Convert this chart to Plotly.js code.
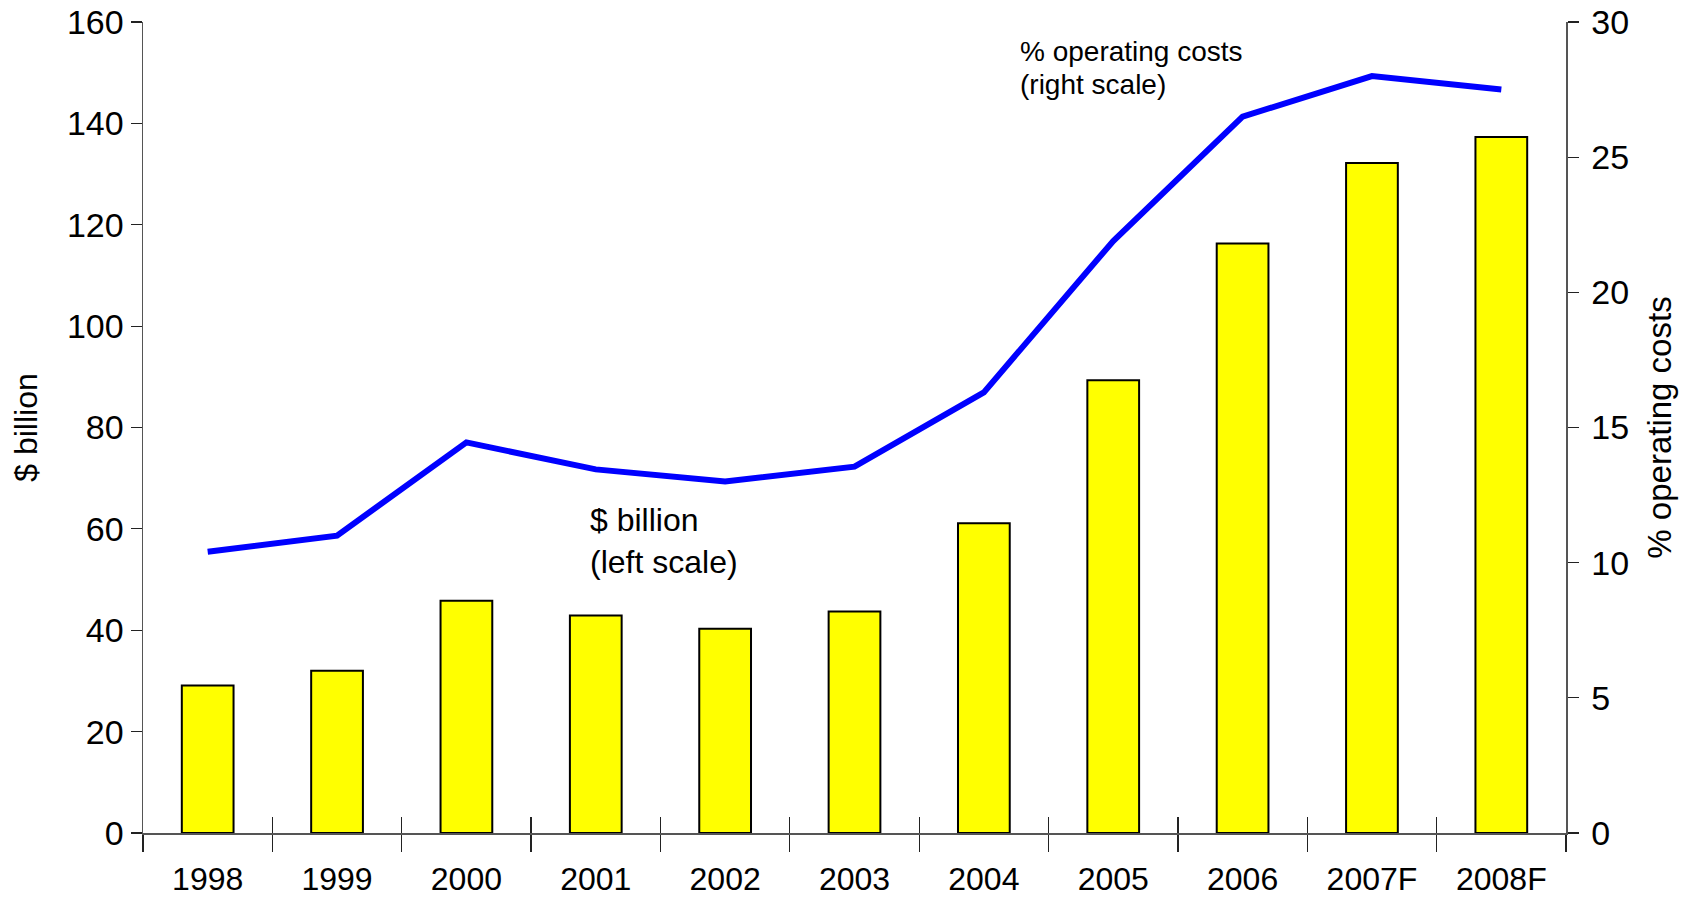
<!DOCTYPE html>
<html>
<head>
<meta charset="utf-8">
<script src="https://cdn.plot.ly/plotly-3.0.1.min.js"></script>
<style>
  html, body { margin: 0; padding: 0; background: #ffffff; }
  #chart { width: 1688px; height: 898px; }
</style>
</head>
<body>
<div id="chart"></div>
<script>
// ---- data ----
const years = ['1998', '1999', '2000', '2001', '2002', '2003', '2004', '2005', '2006', '2007F', '2008F'];
const billions = [29.1, 32.0, 45.8, 42.9, 40.3, 43.7, 61.1, 89.3, 116.3, 132.2, 137.3];
const pctOperatingCosts = [10.4, 11.0, 14.45, 13.45, 13.0, 13.55, 16.3, 21.9, 26.5, 28.0, 27.5];
const leftTitle = '$ billion';
const rightTitle = '% operating costs';
const lineLabel1 = '% operating costs';
const lineLabel2 = '(right scale)';
const barLabel = '$ billion<br>(left scale)';

const FONT = '"Liberation Sans", Arial, Helvetica, sans-serif';
const AXIS_COLOR = '#555555';
const catRange = [-0.5, years.length - 0.5];

const traces = [
  {
    type: 'bar',
    x: years,
    y: billions,
    xaxis: 'x',
    yaxis: 'y',
    width: 0.4,
    marker: { color: '#FFFF00', line: { color: '#000000', width: 2 } },
    hoverinfo: 'x+y'
  },
  {
    type: 'scatter',
    mode: 'lines',
    x: years,
    y: pctOperatingCosts,
    xaxis: 'x2',
    yaxis: 'y2',
    line: { color: '#0000FF', width: 6 },
    hoverinfo: 'x+y'
  }
];

const commonX = {
  type: 'category',
  range: catRange,
  showgrid: false,
  zeroline: false,
  tickson: 'boundaries',
  tickcolor: '#222222',
  tickwidth: 1.2
};

const layout = {
  width: 1688,
  height: 898,
  margin: { l: 143, r: 122, t: 22, b: 65 },
  paper_bgcolor: '#ffffff',
  plot_bgcolor: '#ffffff',
  showlegend: false,
  font: { family: FONT, color: '#000000' },
  xaxis: Object.assign({}, commonX, {
    ticks: 'outside',
    ticklen: 17,
    ticklabelstandoff: 17,
    showline: true,
    linecolor: AXIS_COLOR,
    linewidth: 1.5,
    tickfont: { size: 32, family: FONT, color: '#000000' },
    anchor: 'y'
  }),
  xaxis2: Object.assign({}, commonX, {
    overlaying: 'x',
    side: 'bottom',
    anchor: 'y',
    ticks: 'inside',
    ticklen: 16,
    showticklabels: false,
    showline: false
  }),
  yaxis: {
    range: [0, 160],
    dtick: 20,
    tick0: 0,
    showgrid: false,
    zeroline: false,
    showline: true,
    linecolor: AXIS_COLOR,
    linewidth: 1.5,
    ticks: 'outside',
    ticklen: 11,
    tickcolor: '#222222',
    tickwidth: 1.2,
    tickfont: { size: 34, family: FONT, color: '#000000' },
    title: { text: leftTitle, font: { size: 32, family: FONT, color: '#000000' }, standoff: 20 },
    anchor: 'x'
  },
  yaxis3: {
    overlaying: 'y',
    side: 'left',
    anchor: 'x',
    range: [0, 160],
    dtick: 20,
    tick0: 0,
    showgrid: false,
    zeroline: false,
    showline: false,
    ticks: 'inside',
    ticklen: 11,
    tickcolor: '#222222',
    tickwidth: 1.2,
    showticklabels: false
  },
  yaxis2: {
    overlaying: 'y',
    side: 'right',
    anchor: 'x2',
    range: [0, 30],
    dtick: 5,
    tick0: 0,
    showgrid: false,
    zeroline: false,
    showline: true,
    linecolor: AXIS_COLOR,
    linewidth: 1.5,
    ticks: 'outside',
    ticklen: 11,
    ticklabelstandoff: 6,
    tickcolor: '#222222',
    tickwidth: 1.2,
    tickfont: { size: 34, family: FONT, color: '#000000' },
    title: { text: rightTitle, font: { size: 33, family: FONT, color: '#000000' }, standoff: 20 }
  },
  yaxis4: {
    overlaying: 'y',
    side: 'right',
    anchor: 'x2',
    range: [0, 30],
    dtick: 5,
    tick0: 0,
    showgrid: false,
    zeroline: false,
    showline: false,
    ticks: 'inside',
    ticklen: 11,
    tickcolor: '#222222',
    tickwidth: 1.2,
    showticklabels: false
  },
  annotations: [
    {
      text: lineLabel1,
      xref: 'paper', yref: 'paper',
      x: 0.615, y: 0.985,
      xanchor: 'left', yanchor: 'top',
      align: 'left',
      showarrow: false,
      font: { size: 28, family: FONT, color: '#000000' }
    },
    {
      text: lineLabel2,
      xref: 'paper', yref: 'paper',
      x: 0.615, y: 0.944,
      xanchor: 'left', yanchor: 'top',
      align: 'left',
      showarrow: false,
      font: { size: 28, family: FONT, color: '#000000' }
    },
    {
      text: barLabel,
      xref: 'paper', yref: 'paper',
      x: 0.313, y: 0.41,
      xanchor: 'left', yanchor: 'top',
      align: 'left',
      showarrow: false,
      font: { size: 32, family: FONT, color: '#000000' }
    }
  ]
};

Plotly.newPlot('chart', traces, layout, { staticPlot: true, displayModeBar: false });
</script>
</body>
</html>
